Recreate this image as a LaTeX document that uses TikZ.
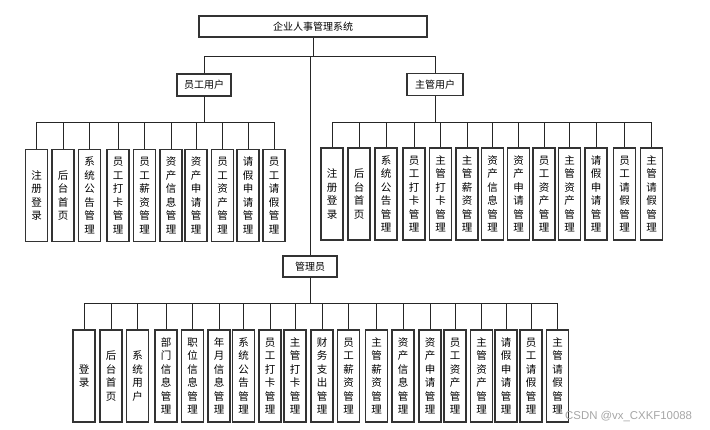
\documentclass[tikz,border=0pt]{standalone}
\usepackage{fontspec}
\setmainfont{Liberation Sans}
\newfontfamily\cjk{Noto Sans CJK SC}
\begin{document}
\begin{tikzpicture}[x=1pt,y=-1pt,
  box/.style={draw=black!80, line width=1.1pt, fill=white, inner sep=0pt,
    font=\cjk\fontsize{10}{12}\selectfont},
  vbox/.style={box, minimum width=22pt, minimum height=92pt, align=center,
    font=\cjk\fontsize{10.5}{13.5}\selectfont},
  conn/.style={draw=black!85, line width=0.9pt}]
\useasboundingbox (0,0) rectangle (710,429);
\node[box, minimum width=228pt, minimum height=21pt] (title) at (313,26.5) {企业人事管理系统};
\node[box, minimum width=54pt, minimum height=22pt] (emp) at (204,85) {员工用户};
\node[box, minimum width=56pt, minimum height=22pt] (mgr) at (435,84.5) {主管用户};
\node[box, minimum width=54pt, minimum height=21pt] (adm) at (310,266.5) {管理员};
\coordinate (tbar) at (0,56);
\coordinate (lbar) at (0,122);
\coordinate (rbar) at (0,122);
\coordinate (bbar) at (0,303);
\draw[conn] (title.south) -- (title.south |- tbar) -| (emp.north);
\draw[conn] (title.south |- tbar) -| (mgr.north);
\draw[conn] (title.south |- tbar) -| (adm.north);
\foreach \x/\t [count=\i] in {36.5/{注\\册\\登\\录}, 63/{后\\台\\首\\页}, 89.5/{系\\统\\公\\告\\管\\理},
  118/{员\\工\\打\\卡\\管\\理}, 144.5/{员\\工\\薪\\资\\管\\理}, 171/{资\\产\\信\\息\\管\\理},
  196/{资\\产\\申\\请\\管\\理}, 222.5/{员\\工\\资\\产\\管\\理}, 248/{请\\假\\申\\请\\管\\理},
  274/{员\\工\\请\\假\\管\\理}}{
  \node[vbox] (L\i) at (\x,195.5) {\t};
  \draw[conn] (emp.south) -- (emp.south |- lbar) -| (L\i.north);
}
\foreach \x/\t [count=\i] in {332/{注\\册\\登\\录}, 359/{后\\台\\首\\页}, 386/{系\\统\\公\\告\\管\\理},
  414/{员\\工\\打\\卡\\管\\理}, 440.5/{主\\管\\打\\卡\\管\\理}, 467/{主\\管\\薪\\资\\管\\理},
  492.5/{资\\产\\信\\息\\管\\理}, 518.5/{资\\产\\申\\请\\管\\理}, 544/{员\\工\\资\\产\\管\\理},
  569.5/{主\\管\\资\\产\\管\\理}, 596/{请\\假\\申\\请\\管\\理}, 624.5/{员\\工\\请\\假\\管\\理},
  651.5/{主\\管\\请\\假\\管\\理}}{
  \node[vbox] (R\i) at (\x,194) {\t};
  \draw[conn] (mgr.south) -- (mgr.south |- rbar) -| (R\i.north);
}
\foreach \x/\t [count=\i] in {84/{登\\录}, 111/{后\\台\\首\\页}, 137.5/{系\\统\\用\\户},
  166/{部\\门\\信\\息\\管\\理}, 192.5/{职\\位\\信\\息\\管\\理}, 219/{年\\月\\信\\息\\管\\理},
  243.5/{系\\统\\公\\告\\管\\理}, 270/{员\\工\\打\\卡\\管\\理}, 295/{主\\管\\打\\卡\\管\\理},
  322/{财\\务\\支\\出\\管\\理}, 348.5/{员\\工\\薪\\资\\管\\理}, 376.5/{主\\管\\薪\\资\\管\\理},
  403/{资\\产\\信\\息\\管\\理}, 430/{资\\产\\申\\请\\管\\理}, 455/{员\\工\\资\\产\\管\\理},
  481.5/{主\\管\\资\\产\\管\\理}, 506/{请\\假\\申\\请\\管\\理}, 531/{员\\工\\请\\假\\管\\理},
  557.5/{主\\管\\请\\假\\管\\理}}{
  \node[vbox] (B\i) at (\x,376) {\t};
  \draw[conn] (adm.south) -- (adm.south |- bbar) -| (B\i.north);
}
\node[text=black!35, font=\fontsize{11.4}{13}\selectfont, anchor=west, inner sep=0pt] (wm) at (565,416) {CSDN @vx\_CXKF10088};
\end{tikzpicture}
\end{document}
